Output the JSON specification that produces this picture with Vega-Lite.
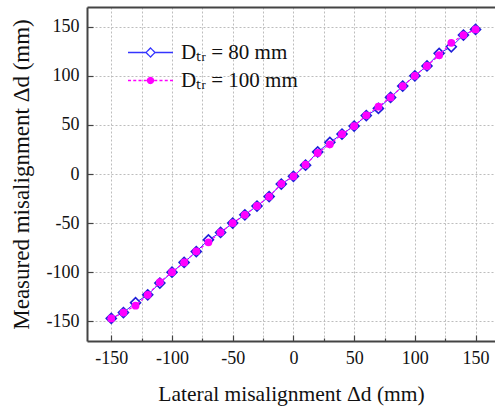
{
  "$schema": "https://vega.github.io/schema/vega-lite/v6.json",
  "width": 408,
  "height": 334,
  "autosize": {"type": "none"},
  "padding": {"left": 87, "top": 7, "right": 0, "bottom": 70},
  "background": "white",
  "config": {
    "view": {"stroke": null},
    "axis": {
      "labelFont": "Liberation Serif",
      "labelFontSize": 18,
      "labelColor": "#111111",
      "titleFont": "Liberation Serif",
      "titleFontSize": 21.5,
      "titleFontWeight": "normal",
      "titleColor": "#111111",
      "domainColor": "#444444",
      "domainWidth": 2,
      "tickColor": "#444444",
      "tickWidth": 1.2,
      "gridColor": "#bdbdbd",
      "gridDash": [2, 2],
      "gridWidth": 1
    }
  },
  "datasets": {
    "pts": [
      {"x": -150, "y": -147, "series": "80"},
      {"x": -140, "y": -141, "series": "80"},
      {"x": -130, "y": -131, "series": "80"},
      {"x": -120, "y": -123, "series": "80"},
      {"x": -110, "y": -111, "series": "80"},
      {"x": -100, "y": -100, "series": "80"},
      {"x": -90, "y": -90, "series": "80"},
      {"x": -80, "y": -79, "series": "80"},
      {"x": -70, "y": -67, "series": "80"},
      {"x": -60, "y": -59.5, "series": "80"},
      {"x": -50, "y": -50, "series": "80"},
      {"x": -40, "y": -41.5, "series": "80"},
      {"x": -30, "y": -32.6, "series": "80"},
      {"x": -20, "y": -23, "series": "80"},
      {"x": -10, "y": -10.2, "series": "80"},
      {"x": 0, "y": -2.4, "series": "80"},
      {"x": 10, "y": 9, "series": "80"},
      {"x": 20, "y": 22.5, "series": "80"},
      {"x": 30, "y": 32.2, "series": "80"},
      {"x": 40, "y": 40.7, "series": "80"},
      {"x": 50, "y": 48.8, "series": "80"},
      {"x": 60, "y": 59.5, "series": "80"},
      {"x": 70, "y": 66.8, "series": "80"},
      {"x": 80, "y": 78, "series": "80"},
      {"x": 90, "y": 89.5, "series": "80"},
      {"x": 100, "y": 100, "series": "80"},
      {"x": 110, "y": 110, "series": "80"},
      {"x": 120, "y": 122.8, "series": "80"},
      {"x": 130, "y": 129.5, "series": "80"},
      {"x": 140, "y": 141.4, "series": "80"},
      {"x": 150, "y": 147.2, "series": "80"},
      {"x": -150, "y": -147, "series": "100"},
      {"x": -140, "y": -141, "series": "100"},
      {"x": -130, "y": -134, "series": "100"},
      {"x": -120, "y": -123, "series": "100"},
      {"x": -110, "y": -110, "series": "100"},
      {"x": -100, "y": -100, "series": "100"},
      {"x": -90, "y": -90, "series": "100"},
      {"x": -80, "y": -78.7, "series": "100"},
      {"x": -70, "y": -69.5, "series": "100"},
      {"x": -60, "y": -59.3, "series": "100"},
      {"x": -50, "y": -50, "series": "100"},
      {"x": -40, "y": -41.5, "series": "100"},
      {"x": -30, "y": -32.5, "series": "100"},
      {"x": -20, "y": -23, "series": "100"},
      {"x": -10, "y": -10, "series": "100"},
      {"x": 0, "y": -2.4, "series": "100"},
      {"x": 10, "y": 9.5, "series": "100"},
      {"x": 20, "y": 21.5, "series": "100"},
      {"x": 30, "y": 30.2, "series": "100"},
      {"x": 40, "y": 40.5, "series": "100"},
      {"x": 50, "y": 48.8, "series": "100"},
      {"x": 60, "y": 59.8, "series": "100"},
      {"x": 70, "y": 68.5, "series": "100"},
      {"x": 80, "y": 78, "series": "100"},
      {"x": 90, "y": 89.5, "series": "100"},
      {"x": 100, "y": 100, "series": "100"},
      {"x": 110, "y": 110, "series": "100"},
      {"x": 120, "y": 121, "series": "100"},
      {"x": 130, "y": 133.6, "series": "100"},
      {"x": 140, "y": 141.4, "series": "100"},
      {"x": 150, "y": 147.2, "series": "100"}
    ]
  },
  "data": {"name": "pts"},
  "resolve": {"axis": {"x": "independent"}},
  "layer": [
    {
      "transform": [{"filter": "datum.series === '80'"}],
      "mark": {"type": "line", "strokeWidth": 1, "clip": true},
      "encoding": {
        "x": {
          "field": "x", "type": "quantitative",
          "scale": {"domain": [-170, 166], "nice": false, "zero": false},
          "axis": {
            "values": [-150, -125, -100, -75, -50, -25, 0, 25, 50, 75, 100, 125, 150],
            "labelExpr": "datum.value % 50 === 0 ? '' + datum.value : ''",
            "tickSize": {"condition": {"test": "datum.value % 50 === 0", "value": -6}, "value": -3},
            "labelPadding": 14,
            "grid": true,
            "title": "Lateral misalignment Δd (mm)",
            "titlePadding": 16
          }
        },
        "y": {
          "field": "y", "type": "quantitative",
          "scale": {"domain": [-170, 170], "nice": false, "zero": false},
          "axis": {
            "values": [-150, -125, -100, -75, -50, -25, 0, 25, 50, 75, 100, 125, 150],
            "labelExpr": "datum.value % 50 === 0 ? '' + datum.value : ''",
            "tickSize": {"condition": {"test": "datum.value % 50 === 0", "value": -6}, "value": -3},
            "labelPadding": 14,
            "grid": true,
            "title": "Measured misalignment Δd (mm)",
            "titleFontSize": 23,
            "titlePadding": 13
          }
        },
        "color": {
          "field": "series", "type": "nominal",
          "scale": {"domain": ["80", "100"], "range": ["#3434ff", "#ff00ff"]},
          "legend": {
            "orient": "none",
            "legendX": 53,
            "legendY": 35,
            "title": null,
            "padding": 0,
            "symbolSize": 225,
            "symbolStrokeWidth": 1.3,
            "labelOffset": 20,
            "rowPadding": 6,
            "labelFont": "Liberation Serif",
            "labelFontSize": 21,
            "labelColor": "#111111",
            "labelExpr": "'Dₜᵣ = ' + datum.value + ' mm'",
            "encode": {
              "symbols": {
                "update": {
                  "shape": {"signal": "datum.value === '80' ? 'M-3,0L-0.6,0M0.6,0L3,0M0,-0.6L0.6,0L0,0.6L-0.6,0Z' : 'M-3,0L-2.6,0M-2.3,0L-1.9,0M-1.6,0L-1.2,0M-0.9,0L-0.5,0M0.5,0L0.9,0M1.2,0L1.6,0M1.9,0L2.3,0M2.6,0L3,0M0.4,0A0.4,0.4 0 1,1 -0.4,0A0.4,0.4 0 1,1 0.4,0Z'"},
                  "fill": {"signal": "datum.value === '80' ? '#ffffff' : '#ff00ff'"},
                  "stroke": {"signal": "datum.value === '80' ? '#2020e0' : '#ff00ff'"},
                  "strokeWidth": {"value": 1.3},
                  "strokeDash": {"value": [1, 0]},
                  "opacity": {"value": 1}
                }
              }
            }
          }
        }
      }
    },
    {
      "transform": [{"filter": "datum.series === '80'"}],
      "mark": {"type": "point", "shape": "diamond", "filled": false, "fill": "white", "fillOpacity": 1, "stroke": "#1f1fd8", "strokeWidth": 1.6, "size": 100, "opacity": 1},
      "encoding": {
        "x": {"field": "x", "type": "quantitative", "axis": null},
        "y": {"field": "y", "type": "quantitative"}
      }
    },
    {
      "transform": [{"filter": "datum.series === '100'"}],
      "mark": {"type": "line", "stroke": "#ff00ff", "strokeWidth": 1.2, "strokeDash": [3, 2]},
      "encoding": {
        "x": {"field": "x", "type": "quantitative", "axis": null},
        "y": {"field": "y", "type": "quantitative"}
      }
    },
    {
      "transform": [{"filter": "datum.series === '100'"}],
      "mark": {"type": "point", "shape": "circle", "filled": true, "fill": "#ff00ff", "stroke": null, "size": 60, "opacity": 1},
      "encoding": {
        "x": {
          "field": "x", "type": "quantitative",
          "axis": {"orient": "top", "labels": false, "ticks": false, "grid": false, "domain": true, "title": null}
        },
        "y": {"field": "y", "type": "quantitative"}
      }
    }
  ]
}
